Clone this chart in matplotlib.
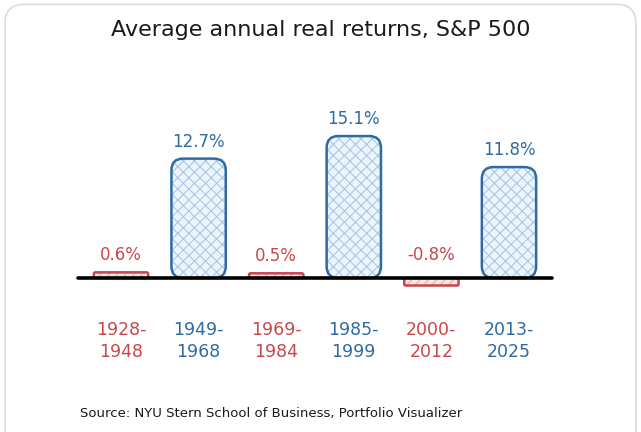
import numpy as np
import matplotlib.pyplot as plt
from matplotlib.patches import FancyBboxPatch

# datos del grafico
periodos = ['1928-\n1948', '1949-\n1968', '1969-\n1984', '1985-\n1999', '2000-\n2012', '2013-\n2025']
retornos = [0.6, 12.7, 0.5, 15.1, -0.8, 11.8]
etiquetas = ['0.6%', '12.7%', '0.5%', '15.1%', '-0.8%', '11.8%']
es_alto = [False, True, False, True, False, True]

ROJO = '#c9474c'
ROJO_FONDO = '#fbe6e6'
ROJO_TRAMA = '#e9a9ab'
AZUL = '#2f6aa3'
AZUL_FONDO = '#edf5fc'
AZUL_TRAMA = '#a9c8e6'

plt.rcParams['font.family'] = ['DejaVu Sans']
plt.rcParams['hatch.linewidth'] = 0.8

fig = plt.figure(figsize=(6.41, 4.32), dpi=100, facecolor='white')

# marco redondeado de la tarjeta
marco = FancyBboxPatch((5/641, -0.1), 631/641, 1.09, boxstyle='round,pad=0,rounding_size=0.03',
                       transform=fig.transFigure, facecolor='white', edgecolor='#d8dcdf',
                       linewidth=1.2, mutation_aspect=641/432, zorder=-10)
fig.patches.append(marco)

ax = fig.add_axes([0, 0, 1, 1], zorder=5)
ax.set_facecolor('none')
px_x = 77.6   # pixeles por unidad en x
px_y = 9.4    # pixeles por punto porcentual
ax.set_xlim(-121/px_x, (641-121)/px_x)
ax.set_ylim(-(432-278)/px_y, 278/px_y)
ax.axis('off')

ancho = 0.7
aspecto = px_x / px_y
x = np.arange(len(retornos))

for i, (v, alto) in enumerate(zip(retornos, es_alto)):
    color = AZUL if alto else ROJO
    fondo = AZUL_FONDO if alto else ROJO_FONDO
    trama = AZUL_TRAMA if alto else ROJO_TRAMA
    y0 = min(0, v)
    h = abs(v)
    radio = 0.15 if alto else 0.02
    # relleno con trama
    relleno = FancyBboxPatch((x[i] - ancho/2, y0), ancho, h,
                             boxstyle=f'round,pad=0,rounding_size={radio}',
                             mutation_aspect=aspecto, facecolor=fondo, edgecolor=trama,
                             linewidth=0, hatch='xxx' if alto else '////', zorder=2)
    ax.add_patch(relleno)
    # contorno
    borde = FancyBboxPatch((x[i] - ancho/2, y0), ancho, h,
                           boxstyle=f'round,pad=0,rounding_size={radio}',
                           mutation_aspect=aspecto, facecolor='none', edgecolor=color,
                           linewidth=1.8, zorder=3)
    ax.add_patch(borde)
    # etiqueta de valor
    if v >= 0:
        ytxt = v + 17/px_y
    else:
        ytxt = 23/px_y
    ax.text(x[i], ytxt, etiquetas[i], ha='center', va='center', color=color, fontsize=12)
    # periodo
    ax.text(x[i], -(341-278)/px_y, periodos[i], ha='center', va='center', color=color,
            fontsize=12.5, linespacing=1.35)

# linea base
ax.plot([-43/px_x, 431/px_x], [0, 0], color='black', linewidth=2.6, zorder=4,
        solid_capstyle='round')

fig.text(0.5, 1 - 30/432, 'Average annual real returns, S&P 500', ha='center', va='center',
         fontsize=16, color='#1a1a1a')
fig.text(80/641, 1 - 414/432, 'Source: NYU Stern School of Business, Portfolio Visualizer',
         ha='left', va='center', fontsize=9.5, color='#1a1a1a')

fig.savefig('out.png', dpi=100, facecolor='white')
